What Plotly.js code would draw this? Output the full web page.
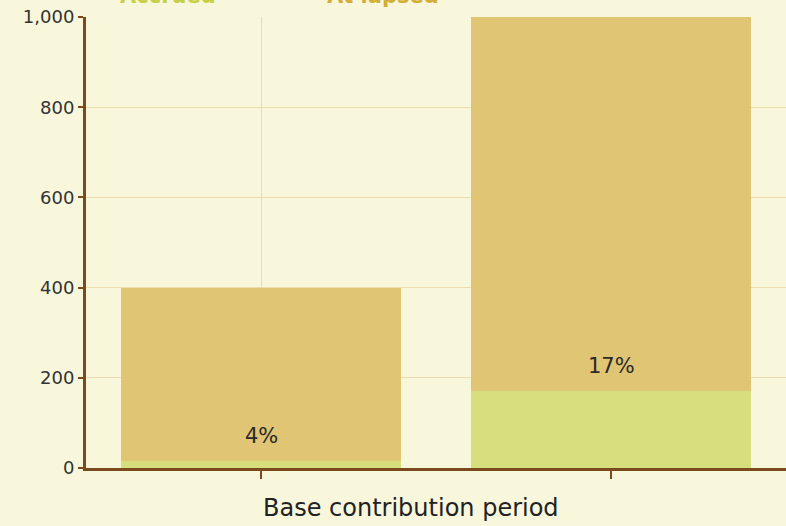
<!DOCTYPE html>
<html>
<head>
<meta charset="utf-8">
<script src="https://cdn.plot.ly/plotly-3.0.1.min.js"></script>
<style>html,body{margin:0;padding:0;background:#F8F7DC;}#chart{width:786px;height:526px;}</style>
</head>
<body>
<div id="chart"></div>
<script>
var categories = ["Period 1", "Period 2"];
var accrued = [16, 170];
var atLapse = [384, 830];
var percentLabels = ["4%", "17%"];
var seriesNames = ["Accrued", "At lapsed"];
var yTicks = [0, 200, 400, 600, 800, 1000];
var xTitle = "Base contribution period";

var FONT = "DejaVu Sans, Verdana, sans-serif";
var seriesColors = ["#D4DC78", "#DDC26E"];
var legendTextColors = ["#C6CF45", "#D3AE36"];

var traces = [
  {
    type: "bar", x: categories, y: accrued, name: seriesNames[0],
    marker: {color: seriesColors[0], opacity: 0.95, line: {width: 0}},
    width: 0.8, showlegend: false
  },
  {
    type: "bar", x: categories, y: atLapse, name: seriesNames[1],
    marker: {color: seriesColors[1], opacity: 0.95, line: {width: 0}},
    width: 0.8, showlegend: false
  }
];

var annotations = categories.map(function (c, i) {
  return {
    x: c, y: accrued[i], xref: "x", yref: "y",
    text: percentLabels[i], showarrow: false,
    yanchor: "bottom", yshift: 11,
    font: {family: FONT, size: 21, color: "#2a2a2a"}
  };
});
// x-axis title
annotations.push({
  x: (411 - 86) / 700, xref: "paper", y: 0, yref: "paper",
  text: xTitle, showarrow: false, xanchor: "center", yanchor: "top", yshift: -24,
  font: {family: FONT, size: 24, color: "#222"}
});
// legend labels (cut off by the top edge, as in the reference)
var legendX = [118, 325];
seriesNames.forEach(function (n, i) {
  annotations.push({
    x: (legendX[i] - 86) / 700, xref: "paper", y: 472 / 451, yref: "paper",
    text: "<b>" + n + "</b>", showarrow: false, xanchor: "left", yanchor: "middle",
    font: {family: FONT, size: 21, color: legendTextColors[i]}
  });
});

var layout = {
  width: 786, height: 526,
  margin: {l: 86, r: 0, t: 17, b: 58, pad: 0, autoexpand: false},
  paper_bgcolor: "#F8F7DC",
  plot_bgcolor: "#F8F7DC",
  barmode: "stack",
  showlegend: false,
  xaxis: {
    type: "category",
    range: [-0.5, 1.5],
    showticklabels: false,
    ticks: "outside", ticklen: 8, tickwidth: 2, tickcolor: "#7A4A1C",
    showline: true, linecolor: "#7A4A1C", linewidth: 3,
    showgrid: true, gridcolor: "#EEDCAE", gridwidth: 1,
    zeroline: false, fixedrange: true
  },
  yaxis: {
    range: [0, 1000],
    tickvals: yTicks,
    tickformat: ",d",
    ticks: "outside", ticklen: 5, tickwidth: 2, tickcolor: "#7A4A1C",
    showline: true, linecolor: "#7A4A1C", linewidth: 3,
    showgrid: true, gridcolor: "#EEDCAE", gridwidth: 1,
    zeroline: false,
    tickfont: {family: FONT, size: 18, color: "#333"},
    fixedrange: true
  },
  annotations: annotations
};

Plotly.newPlot("chart", traces, layout, {displayModeBar: false, staticPlot: true});
</script>
</body>
</html>
